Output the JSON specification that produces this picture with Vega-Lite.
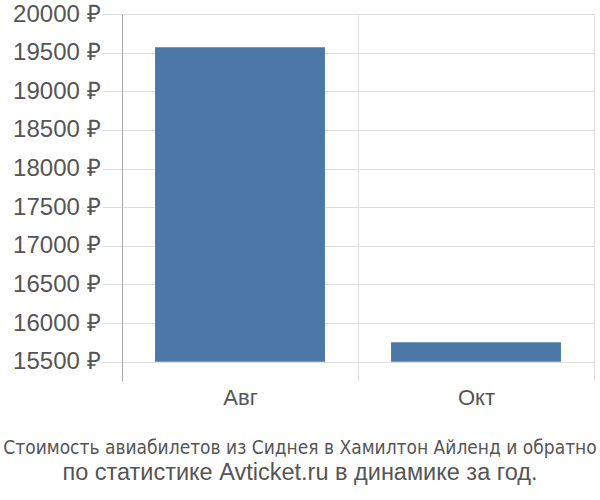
{
  "$schema": "https://vega.github.io/schema/vega-lite/v6.json",
  "autosize": {"type": "none"},
  "width": 472,
  "height": 367,
  "padding": {"left": 122, "top": 14, "right": 6, "bottom": 119},
  "background": "white",
  "data": {
    "values": [
      {"month": "Авг", "price": 19570},
      {"month": "Окт", "price": 15752}
    ]
  },
  "title": {
    "text": "Стоимость авиабилетов из Сиднея в Хамилтон Айленд и обратно",
    "subtitle": "по статистике Avticket.ru в динамике за год.",
    "orient": "bottom",
    "anchor": "middle",
    "dx": -58,
    "offset": 31,
    "font": "Liberation Sans Narrow, DejaVu Sans Condensed, Liberation Sans",
    "fontSize": 19,
    "fontWeight": "normal",
    "color": "#555555",
    "subtitleFont": "Liberation Sans, Arial, sans-serif",
    "subtitleFontSize": 23.5,
    "subtitleColor": "#555555",
    "subtitlePadding": 3
  },
  "mark": {"type": "bar", "color": "#4c78a8", "width": {"band": 0.72}},
  "encoding": {
    "x": {
      "field": "month",
      "type": "nominal",
      "sort": null,
      "scale": {"paddingInner": 0, "paddingOuter": 0},
      "axis": {
        "title": null,
        "labelAngle": 0,
        "tickBand": "extent",
        "grid": true,
        "gridColor": "#dddddd",
        "domain": false,
        "ticks": false,
        "labelFont": "Liberation Sans, Arial, sans-serif",
        "labelFontSize": 22,
        "labelColor": "#555555",
        "labelPadding": 6
      }
    },
    "y": {
      "field": "price",
      "type": "quantitative",
      "scale": {"domain": [15250, 20000], "nice": false, "zero": false},
      "axis": {
        "title": null,
        "values": [15500, 16000, 16500, 17000, 17500, 18000, 18500, 19000, 19500, 20000],
        "labelExpr": "datum.value + ' ₽'",
        "grid": true,
        "gridColor": "#dddddd",
        "tickColor": "#dddddd",
        "tickSize": 20,
        "domainColor": "#aaaaaa",
        "labelFont": "Liberation Sans, Arial, sans-serif",
        "labelFontSize": 24,
        "labelColor": "#555555",
        "labelPadding": 2
      }
    },
    "y2": {"datum": 15500}
  },
  "config": {"view": {"stroke": null}}
}
